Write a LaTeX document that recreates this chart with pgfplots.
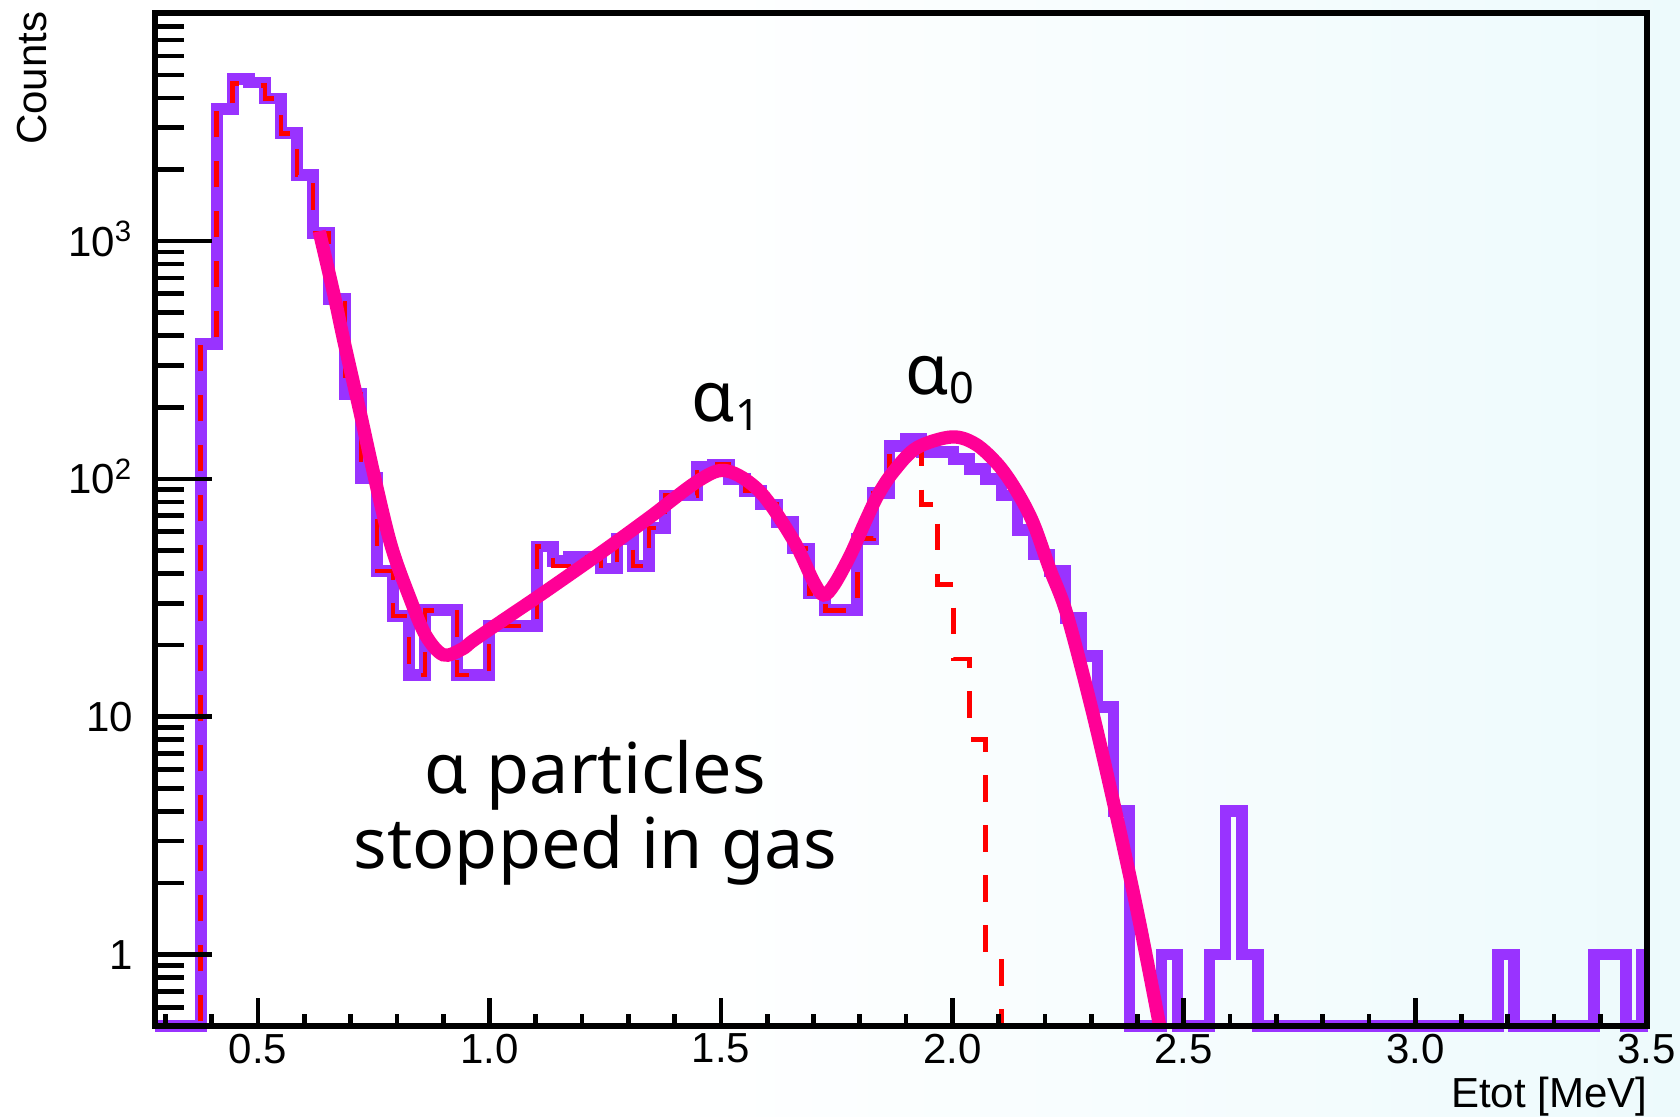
\documentclass[border=0pt]{standalone}
\usepackage{fontspec}
\setmainfont{Liberation Sans}
\newfontfamily\annfont{Noto Sans}
\usepackage{pgfplots}
\pgfplotsset{compat=1.18}
\usetikzlibrary{calc}
\definecolor{histpurple}{RGB}{153,51,255}
\definecolor{histred}{RGB}{255,0,0}
\definecolor{fitpink}{RGB}{255,0,150}
\definecolor{bgcyan}{RGB}{222,246,250}
\pgfdeclarehorizontalshading{bgshade}{100bp}{color(0bp)=(white); color(45bp)=(white); color(100bp)=(bgcyan)}
\begin{document}
\begin{tikzpicture}
\shade[shading=bgshade] (-46.6pt,-27.3pt) rectangle (457.4pt,307.8pt);
\begin{axis}[
  name=ax, at={(0,0)}, anchor=south west, scale only axis,
  width=447.4pt, height=303.9pt,
  xmin=0.278, xmax=3.5, ymode=log, ymin=0.5, ymax=9100,
  axis line style={line width=1.8pt, black},
  axis on top, clip=false,
  tick align=inside, tick pos=left,
  xtick={0.5,1,1.5,2,2.5,3,3.5},
  xticklabels={0.5,1.0,1.5,2.0,2.5,3.0,3.5},
  minor xtick={0.3,0.4,0.6,0.7,0.8,0.9,1.1,1.2,1.3,1.4,1.6,1.7,1.8,1.9,2.1,2.2,2.3,2.4,2.6,2.7,2.8,2.9,3.1,3.2,3.3,3.4},
  ytick={1,10,100,1000},
  yticklabels={1,10,10\textsuperscript{2},10\textsuperscript{3}},
  minor ytick={0.6,0.7,0.8,0.9,2,3,4,5,6,7,8,9,20,30,40,50,60,70,80,90,200,300,400,500,600,700,800,900,2000,3000,4000,5000,6000,7000,8000,9000},
  major tick style={line width=1.4pt, black},
  minor tick style={line width=1.4pt, black},
  xtick style={/pgfplots/major tick length=8.3pt,/pgfplots/minor tick length=3.6pt},
  ytick style={/pgfplots/major tick length=17pt,/pgfplots/minor tick length=8.6pt},
  xticklabel style={font=\fontsize{12.6}{14}\selectfont, inner sep=0pt, anchor=north, yshift=-2.2pt},
  yticklabel style={font=\fontsize{12.6}{14}\selectfont, inner sep=0pt, anchor=base east, xshift=-6.5pt, yshift=-4.5pt},
]
% purple histogram (bin left edge, content)
\addplot[const plot, histpurple, line width=3.5pt, line join=miter] table[row sep=\\] {
x y\\
0.278 0.5\\
0.3760 370\\
0.4106 3600\\
0.4452 4800\\
0.4798 4650\\
0.5144 3980\\
0.5490 2840\\
0.5836 1900\\
0.6182 1080\\
0.6528 570\\
0.6874 227\\
0.7220 101\\
0.7566 41\\
0.7912 26.5\\
0.8258 15\\
0.8604 28\\
0.9296 15\\
0.9988 24\\
1.1026 52\\
1.1372 45\\
1.1718 47\\
1.2410 42\\
1.2756 56\\
1.3102 43\\
1.3448 62\\
1.3794 85\\
1.4486 112\\
1.4832 115\\
1.5178 100\\
1.5524 89\\
1.5870 78\\
1.6216 66\\
1.6562 51\\
1.6908 33\\
1.7254 28\\
1.7946 56\\
1.8292 87\\
1.8638 137\\
1.8984 147\\
1.9330 130\\
2.0022 121\\
2.0368 110\\
2.0714 100\\
2.1060 85\\
2.1406 61\\
2.1752 48\\
2.2098 41\\
2.2444 26\\
2.2790 18\\
2.3136 11\\
2.3482 4\\
2.3828 0.5\\
2.4520 1\\
2.4866 0.5\\
2.5558 1\\
2.5904 4\\
2.6250 1\\
2.6596 0.5\\
3.1786 1\\
3.2132 0.5\\
3.3860 1\\
3.4552 0.5\\
3.4898 1\\
3.5 1\\
};
% red dashed histogram
\addplot[const plot, histred, line width=1.35pt, dash pattern=on 8pt off 7pt] table[row sep=\\] {
x y\\
0.278 0.5\\
0.3760 370\\
0.4106 3600\\
0.4452 4600\\
0.4798 4500\\
0.5144 3980\\
0.5490 2840\\
0.5836 1900\\
0.6182 1080\\
0.6528 570\\
0.6874 227\\
0.7220 101\\
0.7566 41\\
0.7912 26.5\\
0.8258 15\\
0.8604 28\\
0.9296 15\\
0.9988 24\\
1.1026 52\\
1.1372 43\\
1.1718 47\\
1.2410 42\\
1.2756 56\\
1.3102 43\\
1.3448 62\\
1.3794 85\\
1.4486 112\\
1.4832 115\\
1.5178 100\\
1.5524 89\\
1.5870 78\\
1.6216 66\\
1.6562 51\\
1.6908 33\\
1.7254 28\\
1.7946 56\\
1.8292 87\\
1.8638 131\\
1.9330 78\\
1.9676 36\\
2.0022 17.5\\
2.0368 8\\
2.0714 1\\
2.1060 0.5\\
3.5 0.5\\
};
% pink fit curve
\addplot[fitpink, line width=4pt, smooth, tension=0.55] table[row sep=\\] {
x y\\
0.632 1100\\
0.6644 590\\
0.6854 380\\
0.72 192\\
0.7523 100\\
0.788 52\\
0.828 31.5\\
0.862 22\\
0.9 18.2\\
0.94 19.2\\
0.965 20.9\\
1.03 25.5\\
1.109 32.4\\
1.238 48.5\\
1.3465 69\\
1.454 99\\
1.513 108\\
1.585 88\\
1.657 55\\
1.70 37\\
1.722 32.5\\
1.745 36\\
1.78 48\\
1.81 65\\
1.84 86\\
1.874 108\\
1.923 135\\
1.998 150\\
2.05 140\\
2.10 114\\
2.14 88\\
2.175 65\\
2.21 42\\
2.247 27.1\\
2.30 11\\
2.35 4.2\\
2.40 1.5\\
2.448 0.5\\
};
\node[anchor=base, inner sep=0pt, font=\annfont\fontsize{21}{24}\selectfont] at (axis cs:1.229,4.75) {α particles};
\node[anchor=base, inner sep=0pt, font=\annfont\fontsize{21}{24}\selectfont] at (axis cs:1.229,2.29) {stopped in gas};
\node[anchor=base west, inner sep=0pt, font=\annfont\fontsize{21}{24}\selectfont] at (axis cs:1.435,175) {α\raisebox{-2.7pt}{\fontsize{13}{15}\selectfont 1}};
\node[anchor=base west, inner sep=0pt, font=\annfont\fontsize{21}{24}\selectfont] at (axis cs:1.898,227) {α\raisebox{-2.7pt}{\fontsize{13}{15}\selectfont 0}};
\end{axis}
\node[rotate=90, anchor=base east, inner sep=0pt, font=\fontsize{12.6}{14}\selectfont] at ([xshift=-32.6pt,yshift=0.6pt]ax.north west) {Counts};
\node[anchor=base east, inner sep=0pt, font=\fontsize{12.6}{14}\selectfont] at ([xshift=0.4pt,yshift=-24.6pt]ax.south east) {Etot [MeV]};
\pgfresetboundingbox
\path (-46.6pt,-27.3pt) rectangle (457.4pt,307.8pt);
\end{tikzpicture}
\end{document}
